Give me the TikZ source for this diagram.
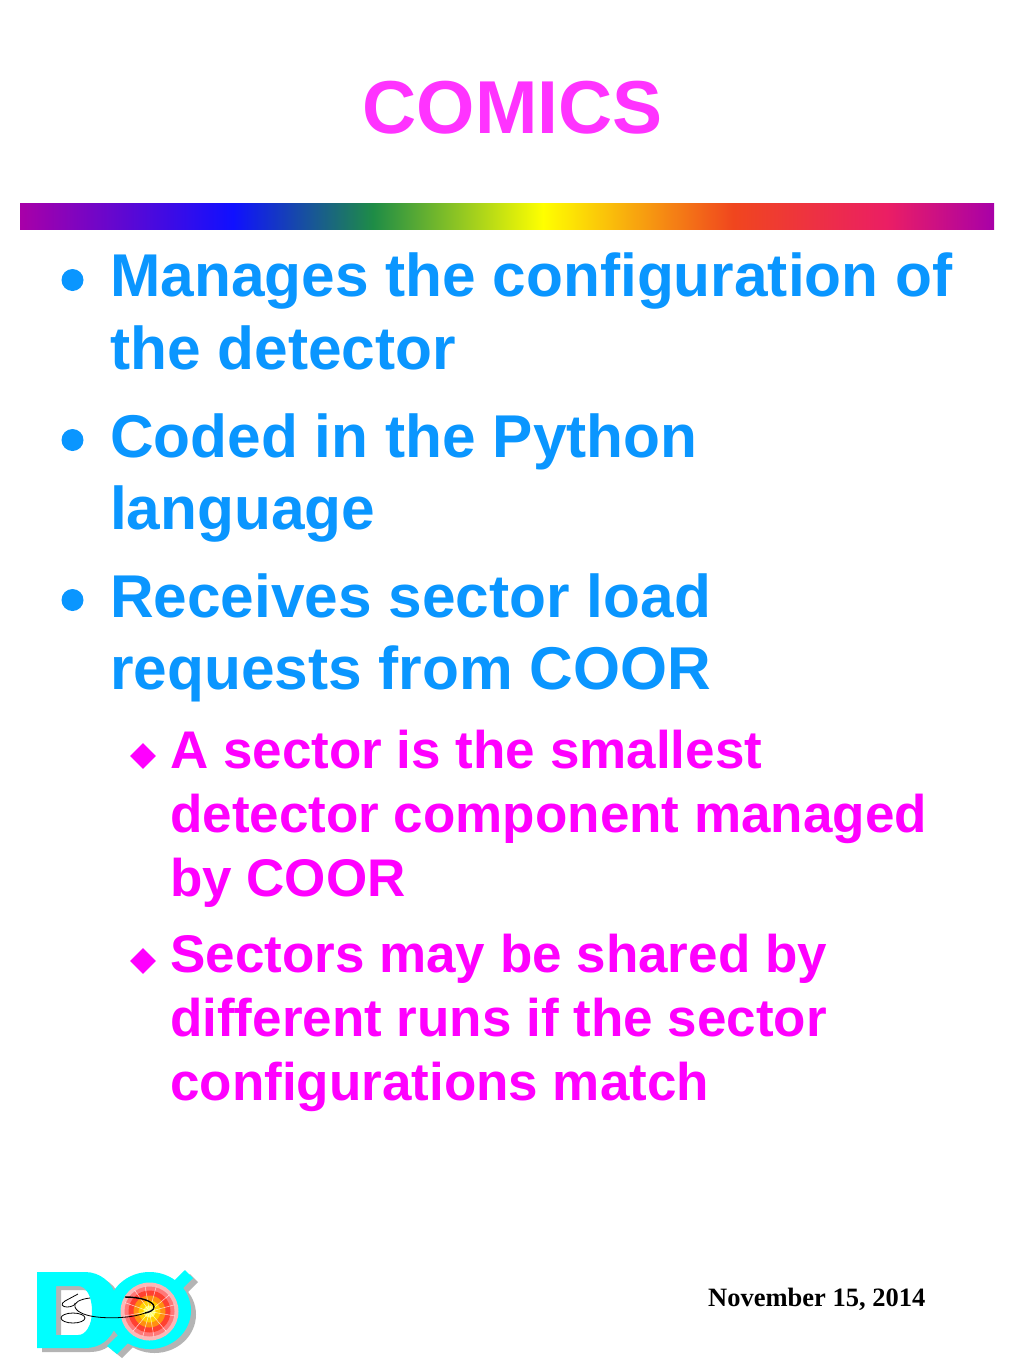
\documentclass[tikz,border=0pt]{standalone}
\usepackage{fontspec}
\setmainfont{Liberation Sans}
\newfontfamily\datefont{Liberation Serif}
\usetikzlibrary{shapes.geometric}
\definecolor{titlemag}{HTML}{FF33FF}
\definecolor{mainblue}{HTML}{0A96FF}
\definecolor{submag}{HTML}{FF00FF}
\definecolor{barA}{HTML}{A800A8}
\definecolor{barB}{HTML}{1010FF}
\definecolor{barC}{HTML}{1E8C46}
\definecolor{barD}{HTML}{FFFF00}
\definecolor{barE}{HTML}{F0461E}
\definecolor{barF}{HTML}{EB1E64}
\definecolor{logoc}{HTML}{00FFFF}
\definecolor{logos}{HTML}{B4B4B4}
\definecolor{discA}{HTML}{FBB8B8}
\definecolor{discB}{HTML}{FF7878}
\definecolor{discC}{HTML}{FF4030}
\definecolor{discD}{HTML}{FF9010}
\definecolor{discE}{HTML}{FFD000}
\definecolor{discF}{HTML}{FFFF60}
\tikzset{
  x=1pt,y=-1pt,
  titletext/.style={font=\bfseries\fontsize{75}{75}\selectfont,text=titlemag,anchor=base,inner sep=0pt},
  maintext/.style={font=\bfseries\fontsize{60.4}{60.4}\selectfont,text=mainblue,anchor=base west,inner sep=0pt},
  subtext/.style={font=\bfseries\fontsize{53}{53}\selectfont,text=submag,anchor=base west,inner sep=0pt},
  datetext/.style={font=\datefont\bfseries\fontsize{26.5}{26.5}\selectfont,text=black,anchor=base west,inner sep=0pt},
  mainbullet/.style={circle,fill=mainblue,minimum size=22pt,inner sep=0pt},
  subbullet/.style={diamond,fill=submag,minimum size=26pt,inner sep=0pt},
  track/.style={draw=black,line width=0.8pt},
  spark/.style={draw=white,line width=0.5pt,opacity=.75}
}
\newcommand{\logoD}{(37,1272) -- (85,1272) .. controls (100,1272) and (112,1282) .. (116,1296) -- (116,1326) .. controls (110,1340) and (100,1348) .. (85,1348) -- (37,1348) -- cycle (56,1286) -- (56,1335) -- (78,1335) .. controls (86,1335) and (92,1325) .. (92,1311) .. controls (92,1296) and (86,1286) .. (78,1286) -- cycle}
\newcommand{\logoO}{(149.5,1310.5) ellipse[x radius=41.5,y radius=38.5]}
\newcommand{\logoS}{(107,1346) -- (117,1354) -- (193,1278) -- (185,1270) -- cycle}
\begin{document}
\begin{tikzpicture}
\useasboundingbox (0,0) rectangle (1024,1365);
\fill[white] (0,0) rectangle (1024,1365);
\node[titletext] (title) at (512.5,133) {COMICS};
% rainbow bar
\shade[left color=barA,right color=barB] (20,203) rectangle (233,229.6);
\shade[left color=barB,right color=barC] (233,203) rectangle (373,229.6);
\shade[left color=barC,right color=barD] (373,203) rectangle (543,229.6);
\shade[left color=barD,right color=barE] (543,203) rectangle (733,229.6);
\shade[left color=barE,right color=barF] (733,203) rectangle (887,229.6);
\shade[left color=barF,right color=barA] (887,203) rectangle (994,229.6);
% main bullets
\node[mainbullet] (b1) at (72.5,280) {};
\node[mainbullet] (b2) at (72.5,440) {};
\node[mainbullet] (b3) at (72.5,600) {};
\node[maintext] (m1) at (110,296.5) {Manages the configuration of};
\node[maintext] (m1b) at (110,369.5) {the detector};
\node[maintext] (m2) at (110,457.5) {Coded in the Python};
\node[maintext] (m2b) at (110,529.5) {language};
\node[maintext] (m3) at (110,617.5) {Receives sector load};
\node[maintext] (m3b) at (110,689.5) {requests from COOR};
% sub bullets
\node[subbullet] (s1) at (143,756) {};
\node[subbullet] (s2) at (143,961) {};
\node[subtext] (t1) at (170,768.5) {A sector is the smallest};
\node[subtext] (t1b) at (170,832.5) {detector component managed};
\node[subtext] (t1c) at (170,896.5) {by COOR};
\node[subtext] (t2) at (170,972.5) {Sectors may be shared by};
\node[subtext] (t2b) at (170,1036.5) {different runs if the sector};
\node[subtext] (t2c) at (170,1100.5) {configurations match};
% logo
\begin{scope}[shift={(5,4)}]
\fill[logos,even odd rule] \logoD;
\fill[logos] \logoO;
\fill[logos] \logoS;
\end{scope}
\fill[logoc,even odd rule] \logoD;
\fill[logoc] \logoS;
\fill[logoc] \logoO;
\fill[discA] (149.5,1311.5) circle[radius=29];
\fill[discB] (149.5,1311.5) circle[radius=25];
\fill[discC] (149.5,1311.5) circle[radius=21];
\fill[discD] (149.5,1311.5) circle[radius=16];
\fill[discE] (149.5,1311.5) circle[radius=11];
\fill[discF] (149.5,1311.5) circle[radius=6];
\foreach \a in {10,50,80,105,130,170,200,235,260,285,320,345}
  \draw[spark] (149.5,1311.5) -- ++(\a:26);
\draw[track] (90,1298) .. controls (80,1299) and (73,1303) .. (75,1307) .. controls (77,1313) and (88,1316) .. (97,1317) .. controls (115,1319) and (135,1317) .. (145,1313);
\draw[black,line width=1.4pt] (125,1297) .. controls (140,1297) and (154,1301) .. (154,1307) .. controls (154,1310) and (150,1312) .. (145,1313);
\draw[track] (73,1318) ellipse[x radius=12,y radius=5];
\draw[track] (78,1294) -- (65,1301) .. controls (60,1304) and (62,1307) .. (67,1307) .. controls (71,1307) and (76,1305) .. (75,1303);
\node[datetext] (date) at (708,1306) {November 15, 2014};
\end{tikzpicture}
\end{document}
